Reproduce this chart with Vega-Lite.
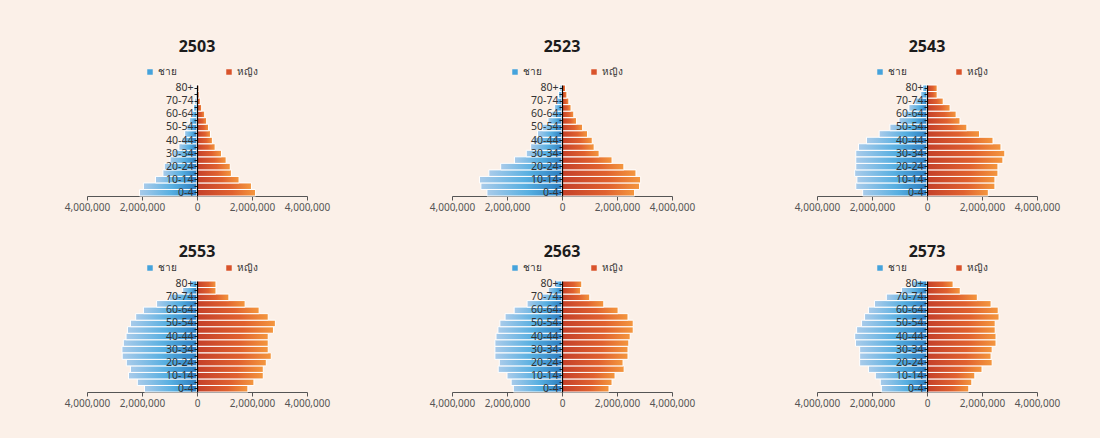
{
  "$schema": "https://vega.github.io/schema/vega-lite/v6.json",
  "background": "#FBF0E8",
  "padding": {"left": 64, "top": 39, "right": 40, "bottom": 40},
  "datasets": {
    "pyr": [
      {"year":"2503","age":"0-4","ชาย":-2090000,"หญิง":2130000},
      {"year":"2503","age":"5-9","ชาย":-1950000,"หญิง":1980000},
      {"year":"2503","age":"10-14","ชาย":-1510000,"หญิง":1530000},
      {"year":"2503","age":"15-19","ชาย":-1240000,"หญิง":1250000},
      {"year":"2503","age":"20-24","ชาย":-1190000,"หญิง":1210000},
      {"year":"2503","age":"25-29","ชาย":-980000,"หญิง":1060000},
      {"year":"2503","age":"30-34","ชาย":-850000,"หญิง":890000},
      {"year":"2503","age":"35-39","ชาย":-660000,"หญิง":660000},
      {"year":"2503","age":"40-44","ชาย":-550000,"หญิง":560000},
      {"year":"2503","age":"45-49","ชาย":-450000,"หญิง":490000},
      {"year":"2503","age":"50-54","ชาย":-370000,"หญิง":420000},
      {"year":"2503","age":"55-59","ชาย":-280000,"หญิง":350000},
      {"year":"2503","age":"60-64","ชาย":-190000,"หญิง":280000},
      {"year":"2503","age":"65-69","ชาย":-130000,"หญิง":170000},
      {"year":"2503","age":"70-74","ชาย":-80000,"หญิง":120000},
      {"year":"2503","age":"75-79","ชาย":-50000,"หญิง":80000},
      {"year":"2503","age":"80+","ชาย":-30000,"หญิง":70000},

      {"year":"2523","age":"0-4","ชาย":-2730000,"หญิง":2640000},
      {"year":"2523","age":"5-9","ชาย":-2950000,"หญิง":2820000},
      {"year":"2523","age":"10-14","ชาย":-3000000,"หญิง":2860000},
      {"year":"2523","age":"15-19","ชาย":-2660000,"หญิง":2690000},
      {"year":"2523","age":"20-24","ชาย":-2230000,"หญิง":2250000},
      {"year":"2523","age":"25-29","ชาย":-1730000,"หญิง":1820000},
      {"year":"2523","age":"30-34","ชาย":-1300000,"หญิง":1350000},
      {"year":"2523","age":"35-39","ชาย":-1140000,"หญิง":1170000},
      {"year":"2523","age":"40-44","ชาย":-1050000,"หญิง":1100000},
      {"year":"2523","age":"45-49","ชาย":-890000,"หญิง":930000},
      {"year":"2523","age":"50-54","ชาย":-710000,"หญิง":750000},
      {"year":"2523","age":"55-59","ชาย":-510000,"หญิง":530000},
      {"year":"2523","age":"60-64","ชาย":-370000,"หญิง":430000},
      {"year":"2523","age":"65-69","ชาย":-280000,"หญิง":330000},
      {"year":"2523","age":"70-74","ชาย":-190000,"หญิง":250000},
      {"year":"2523","age":"75-79","ชาย":-130000,"หญิง":180000},
      {"year":"2523","age":"80+","ชาย":-80000,"หญิง":130000},

      {"year":"2543","age":"0-4","ชาย":-2340000,"หญิง":2230000},
      {"year":"2543","age":"5-9","ชาย":-2590000,"หญิง":2470000},
      {"year":"2543","age":"10-14","ชาย":-2550000,"หญิง":2470000},
      {"year":"2543","age":"15-19","ชาย":-2630000,"หญิง":2580000},
      {"year":"2543","age":"20-24","ชาย":-2590000,"หญิง":2580000},
      {"year":"2543","age":"25-29","ชาย":-2590000,"หญิง":2760000},
      {"year":"2543","age":"30-34","ชาย":-2590000,"หญิง":2830000},
      {"year":"2543","age":"35-39","ชาย":-2490000,"หญิง":2690000},
      {"year":"2543","age":"40-44","ชาย":-2200000,"หญิง":2400000},
      {"year":"2543","age":"45-49","ชาย":-1740000,"หญิง":1910000},
      {"year":"2543","age":"50-54","ชาย":-1350000,"หญิง":1450000},
      {"year":"2543","age":"55-59","ชาย":-1020000,"หญิง":1200000},
      {"year":"2543","age":"60-64","ชาย":-840000,"หญิง":1060000},
      {"year":"2543","age":"65-69","ชาย":-660000,"หญิง":840000},
      {"year":"2543","age":"70-74","ชาย":-440000,"หญิง":590000},
      {"year":"2543","age":"75-79","ชาย":-230000,"หญิง":370000},
      {"year":"2543","age":"80+","ชาย":-160000,"หญิง":370000},

      {"year":"2553","age":"0-4","ชาย":-1910000,"หญิง":1850000},
      {"year":"2553","age":"5-9","ชาย":-2170000,"หญิง":2070000},
      {"year":"2553","age":"10-14","ชาย":-2490000,"หญิง":2410000},
      {"year":"2553","age":"15-19","ชาย":-2420000,"หญิง":2410000},
      {"year":"2553","age":"20-24","ชาย":-2570000,"หญิง":2520000},
      {"year":"2553","age":"25-29","ชาย":-2720000,"หญิง":2700000},
      {"year":"2553","age":"30-34","ชาย":-2730000,"หญิง":2590000},
      {"year":"2553","age":"35-39","ชาย":-2680000,"หญิง":2590000},
      {"year":"2553","age":"40-44","ชาย":-2580000,"หญิง":2590000},
      {"year":"2553","age":"45-49","ชาย":-2530000,"หญิง":2780000},
      {"year":"2553","age":"50-54","ชาย":-2420000,"หญิง":2850000},
      {"year":"2553","age":"55-59","ชาย":-2230000,"หญิง":2590000},
      {"year":"2553","age":"60-64","ชาย":-1950000,"หญิง":2260000},
      {"year":"2553","age":"65-69","ชาย":-1470000,"หญิง":1750000},
      {"year":"2553","age":"70-74","ชาย":-1000000,"หญิง":1160000},
      {"year":"2553","age":"75-79","ชาย":-520000,"หญิง":690000},
      {"year":"2553","age":"80+","ชาย":-270000,"หญิง":690000},

      {"year":"2563","age":"0-4","ชาย":-1770000,"หญิง":1710000},
      {"year":"2563","age":"5-9","ชาย":-1850000,"หญิง":1820000},
      {"year":"2563","age":"10-14","ชาย":-2000000,"หญิง":1930000},
      {"year":"2563","age":"15-19","ชาย":-2320000,"หญิง":2260000},
      {"year":"2563","age":"20-24","ชาย":-2280000,"หญิง":2220000},
      {"year":"2563","age":"25-29","ชาย":-2440000,"หญิง":2400000},
      {"year":"2563","age":"30-34","ชาย":-2440000,"หญิง":2400000},
      {"year":"2563","age":"35-39","ชาย":-2440000,"หญิง":2430000},
      {"year":"2563","age":"40-44","ชาย":-2400000,"หญิง":2480000},
      {"year":"2563","age":"45-49","ชาย":-2330000,"หญิง":2590000},
      {"year":"2563","age":"50-54","ชาย":-2260000,"หญิง":2590000},
      {"year":"2563","age":"55-59","ชาย":-2070000,"หญิง":2400000},
      {"year":"2563","age":"60-64","ชาย":-1740000,"หญิง":2040000},
      {"year":"2563","age":"65-69","ชาย":-1270000,"หญิง":1520000},
      {"year":"2563","age":"70-74","ชาย":-740000,"หญิง":1010000},
      {"year":"2563","age":"75-79","ชาย":-500000,"หญิง":680000},
      {"year":"2563","age":"80+","ชาย":-260000,"หญิง":720000},

      {"year":"2573","age":"0-4","ชาย":-1660000,"หญิง":1520000},
      {"year":"2573","age":"5-9","ชาย":-1700000,"หญิง":1630000},
      {"year":"2573","age":"10-14","ชาย":-1880000,"หญิง":1740000},
      {"year":"2573","age":"15-19","ชาย":-2130000,"หญิง":2000000},
      {"year":"2573","age":"20-24","ชาย":-2450000,"หญิง":2370000},
      {"year":"2573","age":"25-29","ชาย":-2450000,"หญิง":2330000},
      {"year":"2573","age":"30-34","ชาย":-2450000,"หญิง":2370000},
      {"year":"2573","age":"35-39","ชาย":-2600000,"หญิง":2510000},
      {"year":"2573","age":"40-44","ชาย":-2630000,"หญิง":2510000},
      {"year":"2573","age":"45-49","ชาย":-2560000,"หญิง":2480000},
      {"year":"2573","age":"50-54","ชาย":-2380000,"หญิง":2480000},
      {"year":"2573","age":"55-59","ชาย":-2270000,"หญิง":2620000},
      {"year":"2573","age":"60-64","ชาย":-2130000,"หญิง":2590000},
      {"year":"2573","age":"65-69","ชาย":-1910000,"หญิง":2330000},
      {"year":"2573","age":"70-74","ชาย":-1480000,"หญิง":1830000},
      {"year":"2573","age":"75-79","ชาย":-930000,"หญิง":1210000},
      {"year":"2573","age":"80+","ชาย":-550000,"หญิง":950000}
    ]
  },
  "data": {"name": "pyr"},
  "columns": 3,
  "bounds": "flush",
  "spacing": {"column": 145, "row": 85},
  "resolve": {"scale": {"color": "independent"}, "legend": {"color": "independent"}},
  "concat": [
    {
      "width": 220, "height": 111,
      "title": {"text": "2503", "offset": 12},
      "transform": [{"filter": "datum.year === '2503'"}, {"fold": ["ชาย", "หญิง"], "as": ["sex", "pop"]}],
      "encoding": {
        "y": {"field": "age", "type": "nominal", "sort": ["80+","75-79","70-74","65-69","60-64","55-59","50-54","45-49","40-44","35-39","30-34","25-29","20-24","15-19","10-14","5-9","0-4"], "scale": {"paddingInner": 0, "paddingOuter": 0}, "axis": {"zindex": 2, "labelExpr": "indexof(['80+','70-74','60-64','50-54','40-44','30-34','20-24','10-14','0-4'], datum.label) >= 0 ? datum.label : ''"}},
        "x": {"field": "pop", "type": "quantitative", "scale": {"domain": [-4000000, 4000000]}, "axis": {"values": [-4000000, -2000000, 0, 2000000, 4000000], "labelExpr": "format(abs(datum.value), ',')"}}
      },
      "layer": [
        {"transform": [{"filter": "datum.sex === 'ชาย'"}], "mark": {"type": "bar", "stroke": "#ffffff", "strokeWidth": 1, "fill": {"gradient": "linear", "x1": 0, "x2": 1, "y1": 0, "y2": 0, "stops": [{"offset": 0, "color": "#a9cbea"}, {"offset": 0.55, "color": "#57afe1"}, {"offset": 1, "color": "#2b7cbf"}]}}},
        {"transform": [{"filter": "datum.sex === 'หญิง'"}], "mark": {"type": "bar", "stroke": "#ffffff", "strokeWidth": 1, "fill": {"gradient": "linear", "x1": 0, "x2": 1, "y1": 0, "y2": 0, "stops": [{"offset": 0, "color": "#c4402a"}, {"offset": 0.6, "color": "#e0612f"}, {"offset": 1, "color": "#f4973e"}]}}},
        {"mark": {"type": "point", "shape": "square", "filled": true, "opacity": 0}, "encoding": {"color": {"field": "sex", "type": "nominal", "scale": {"domain": ["ชาย", "หญิง"], "range": ["#45a3dc", "#d9532b"]}}}}
      ]
    },
    {
      "width": 220, "height": 111,
      "title": {"text": "2523", "offset": 12},
      "transform": [{"filter": "datum.year === '2523'"}, {"fold": ["ชาย", "หญิง"], "as": ["sex", "pop"]}],
      "encoding": {
        "y": {"field": "age", "type": "nominal", "sort": ["80+","75-79","70-74","65-69","60-64","55-59","50-54","45-49","40-44","35-39","30-34","25-29","20-24","15-19","10-14","5-9","0-4"], "scale": {"paddingInner": 0, "paddingOuter": 0}, "axis": {"zindex": 2, "labelExpr": "indexof(['80+','70-74','60-64','50-54','40-44','30-34','20-24','10-14','0-4'], datum.label) >= 0 ? datum.label : ''"}},
        "x": {"field": "pop", "type": "quantitative", "scale": {"domain": [-4000000, 4000000]}, "axis": {"values": [-4000000, -2000000, 0, 2000000, 4000000], "labelExpr": "format(abs(datum.value), ',')"}}
      },
      "layer": [
        {"transform": [{"filter": "datum.sex === 'ชาย'"}], "mark": {"type": "bar", "stroke": "#ffffff", "strokeWidth": 1, "fill": {"gradient": "linear", "x1": 0, "x2": 1, "y1": 0, "y2": 0, "stops": [{"offset": 0, "color": "#a9cbea"}, {"offset": 0.55, "color": "#57afe1"}, {"offset": 1, "color": "#2b7cbf"}]}}},
        {"transform": [{"filter": "datum.sex === 'หญิง'"}], "mark": {"type": "bar", "stroke": "#ffffff", "strokeWidth": 1, "fill": {"gradient": "linear", "x1": 0, "x2": 1, "y1": 0, "y2": 0, "stops": [{"offset": 0, "color": "#c4402a"}, {"offset": 0.6, "color": "#e0612f"}, {"offset": 1, "color": "#f4973e"}]}}},
        {"mark": {"type": "point", "shape": "square", "filled": true, "opacity": 0}, "encoding": {"color": {"field": "sex", "type": "nominal", "scale": {"domain": ["ชาย", "หญิง"], "range": ["#45a3dc", "#d9532b"]}}}}
      ]
    },
    {
      "width": 220, "height": 111,
      "title": {"text": "2543", "offset": 12},
      "transform": [{"filter": "datum.year === '2543'"}, {"fold": ["ชาย", "หญิง"], "as": ["sex", "pop"]}],
      "encoding": {
        "y": {"field": "age", "type": "nominal", "sort": ["80+","75-79","70-74","65-69","60-64","55-59","50-54","45-49","40-44","35-39","30-34","25-29","20-24","15-19","10-14","5-9","0-4"], "scale": {"paddingInner": 0, "paddingOuter": 0}, "axis": {"zindex": 2, "labelExpr": "indexof(['80+','70-74','60-64','50-54','40-44','30-34','20-24','10-14','0-4'], datum.label) >= 0 ? datum.label : ''"}},
        "x": {"field": "pop", "type": "quantitative", "scale": {"domain": [-4000000, 4000000]}, "axis": {"values": [-4000000, -2000000, 0, 2000000, 4000000], "labelExpr": "format(abs(datum.value), ',')"}}
      },
      "layer": [
        {"transform": [{"filter": "datum.sex === 'ชาย'"}], "mark": {"type": "bar", "stroke": "#ffffff", "strokeWidth": 1, "fill": {"gradient": "linear", "x1": 0, "x2": 1, "y1": 0, "y2": 0, "stops": [{"offset": 0, "color": "#a9cbea"}, {"offset": 0.55, "color": "#57afe1"}, {"offset": 1, "color": "#2b7cbf"}]}}},
        {"transform": [{"filter": "datum.sex === 'หญิง'"}], "mark": {"type": "bar", "stroke": "#ffffff", "strokeWidth": 1, "fill": {"gradient": "linear", "x1": 0, "x2": 1, "y1": 0, "y2": 0, "stops": [{"offset": 0, "color": "#c4402a"}, {"offset": 0.6, "color": "#e0612f"}, {"offset": 1, "color": "#f4973e"}]}}},
        {"mark": {"type": "point", "shape": "square", "filled": true, "opacity": 0}, "encoding": {"color": {"field": "sex", "type": "nominal", "scale": {"domain": ["ชาย", "หญิง"], "range": ["#45a3dc", "#d9532b"]}}}}
      ]
    },
    {
      "width": 220, "height": 111,
      "title": {"text": "2553", "offset": 3},
      "transform": [{"filter": "datum.year === '2553'"}, {"fold": ["ชาย", "หญิง"], "as": ["sex", "pop"]}],
      "encoding": {
        "y": {"field": "age", "type": "nominal", "sort": ["80+","75-79","70-74","65-69","60-64","55-59","50-54","45-49","40-44","35-39","30-34","25-29","20-24","15-19","10-14","5-9","0-4"], "scale": {"paddingInner": 0, "paddingOuter": 0}, "axis": {"zindex": 2, "labelExpr": "indexof(['80+','70-74','60-64','50-54','40-44','30-34','20-24','10-14','0-4'], datum.label) >= 0 ? datum.label : ''"}},
        "x": {"field": "pop", "type": "quantitative", "scale": {"domain": [-4000000, 4000000]}, "axis": {"values": [-4000000, -2000000, 0, 2000000, 4000000], "labelExpr": "format(abs(datum.value), ',')"}}
      },
      "layer": [
        {"transform": [{"filter": "datum.sex === 'ชาย'"}], "mark": {"type": "bar", "stroke": "#ffffff", "strokeWidth": 1, "fill": {"gradient": "linear", "x1": 0, "x2": 1, "y1": 0, "y2": 0, "stops": [{"offset": 0, "color": "#a9cbea"}, {"offset": 0.55, "color": "#57afe1"}, {"offset": 1, "color": "#2b7cbf"}]}}},
        {"transform": [{"filter": "datum.sex === 'หญิง'"}], "mark": {"type": "bar", "stroke": "#ffffff", "strokeWidth": 1, "fill": {"gradient": "linear", "x1": 0, "x2": 1, "y1": 0, "y2": 0, "stops": [{"offset": 0, "color": "#c4402a"}, {"offset": 0.6, "color": "#e0612f"}, {"offset": 1, "color": "#f4973e"}]}}},
        {"mark": {"type": "point", "shape": "square", "filled": true, "opacity": 0}, "encoding": {"color": {"field": "sex", "type": "nominal", "scale": {"domain": ["ชาย", "หญิง"], "range": ["#45a3dc", "#d9532b"]}}}}
      ]
    },
    {
      "width": 220, "height": 111,
      "title": {"text": "2563", "offset": 3},
      "transform": [{"filter": "datum.year === '2563'"}, {"fold": ["ชาย", "หญิง"], "as": ["sex", "pop"]}],
      "encoding": {
        "y": {"field": "age", "type": "nominal", "sort": ["80+","75-79","70-74","65-69","60-64","55-59","50-54","45-49","40-44","35-39","30-34","25-29","20-24","15-19","10-14","5-9","0-4"], "scale": {"paddingInner": 0, "paddingOuter": 0}, "axis": {"zindex": 2, "labelExpr": "indexof(['80+','70-74','60-64','50-54','40-44','30-34','20-24','10-14','0-4'], datum.label) >= 0 ? datum.label : ''"}},
        "x": {"field": "pop", "type": "quantitative", "scale": {"domain": [-4000000, 4000000]}, "axis": {"values": [-4000000, -2000000, 0, 2000000, 4000000], "labelExpr": "format(abs(datum.value), ',')"}}
      },
      "layer": [
        {"transform": [{"filter": "datum.sex === 'ชาย'"}], "mark": {"type": "bar", "stroke": "#ffffff", "strokeWidth": 1, "fill": {"gradient": "linear", "x1": 0, "x2": 1, "y1": 0, "y2": 0, "stops": [{"offset": 0, "color": "#a9cbea"}, {"offset": 0.55, "color": "#57afe1"}, {"offset": 1, "color": "#2b7cbf"}]}}},
        {"transform": [{"filter": "datum.sex === 'หญิง'"}], "mark": {"type": "bar", "stroke": "#ffffff", "strokeWidth": 1, "fill": {"gradient": "linear", "x1": 0, "x2": 1, "y1": 0, "y2": 0, "stops": [{"offset": 0, "color": "#c4402a"}, {"offset": 0.6, "color": "#e0612f"}, {"offset": 1, "color": "#f4973e"}]}}},
        {"mark": {"type": "point", "shape": "square", "filled": true, "opacity": 0}, "encoding": {"color": {"field": "sex", "type": "nominal", "scale": {"domain": ["ชาย", "หญิง"], "range": ["#45a3dc", "#d9532b"]}}}}
      ]
    },
    {
      "width": 220, "height": 111,
      "title": {"text": "2573", "offset": 3},
      "transform": [{"filter": "datum.year === '2573'"}, {"fold": ["ชาย", "หญิง"], "as": ["sex", "pop"]}],
      "encoding": {
        "y": {"field": "age", "type": "nominal", "sort": ["80+","75-79","70-74","65-69","60-64","55-59","50-54","45-49","40-44","35-39","30-34","25-29","20-24","15-19","10-14","5-9","0-4"], "scale": {"paddingInner": 0, "paddingOuter": 0}, "axis": {"zindex": 2, "labelExpr": "indexof(['80+','70-74','60-64','50-54','40-44','30-34','20-24','10-14','0-4'], datum.label) >= 0 ? datum.label : ''"}},
        "x": {"field": "pop", "type": "quantitative", "scale": {"domain": [-4000000, 4000000]}, "axis": {"values": [-4000000, -2000000, 0, 2000000, 4000000], "labelExpr": "format(abs(datum.value), ',')"}}
      },
      "layer": [
        {"transform": [{"filter": "datum.sex === 'ชาย'"}], "mark": {"type": "bar", "stroke": "#ffffff", "strokeWidth": 1, "fill": {"gradient": "linear", "x1": 0, "x2": 1, "y1": 0, "y2": 0, "stops": [{"offset": 0, "color": "#a9cbea"}, {"offset": 0.55, "color": "#57afe1"}, {"offset": 1, "color": "#2b7cbf"}]}}},
        {"transform": [{"filter": "datum.sex === 'หญิง'"}], "mark": {"type": "bar", "stroke": "#ffffff", "strokeWidth": 1, "fill": {"gradient": "linear", "x1": 0, "x2": 1, "y1": 0, "y2": 0, "stops": [{"offset": 0, "color": "#c4402a"}, {"offset": 0.6, "color": "#e0612f"}, {"offset": 1, "color": "#f4973e"}]}}},
        {"mark": {"type": "point", "shape": "square", "filled": true, "opacity": 0}, "encoding": {"color": {"field": "sex", "type": "nominal", "scale": {"domain": ["ชาย", "หญิง"], "range": ["#45a3dc", "#d9532b"]}}}}
      ]
    }
  ],
  "config": {
    "view": {"stroke": null},
    "font": "Noto Sans",
    "title": {"fontSize": 16, "fontWeight": "bold", "color": "#1c1c1c", "anchor": "middle"},
    "legend": {"orient": "none", "legendX": 58, "legendY": -18, "direction": "horizontal", "title": null, "symbolType": "square", "symbolSize": 30, "symbolOpacity": 1, "labelFontSize": 10, "labelColor": "#333333", "columnPadding": 47, "labelOffset": 3},
    "axisX": {"title": null, "grid": false, "domainColor": "#555555", "tickColor": "#555555", "tickSize": 4, "labelFontSize": 10, "labelColor": "#555555", "labelPadding": 2, "labelFlush": false, "labelOverlap": false},
    "axisY": {"title": null, "offset": -110, "domainColor": "#000000", "domainWidth": 1.2, "tickColor": "#222222", "tickSize": 3, "labelFontSize": 10.5, "labelColor": "#333333", "labelPadding": 1}
  }
}
